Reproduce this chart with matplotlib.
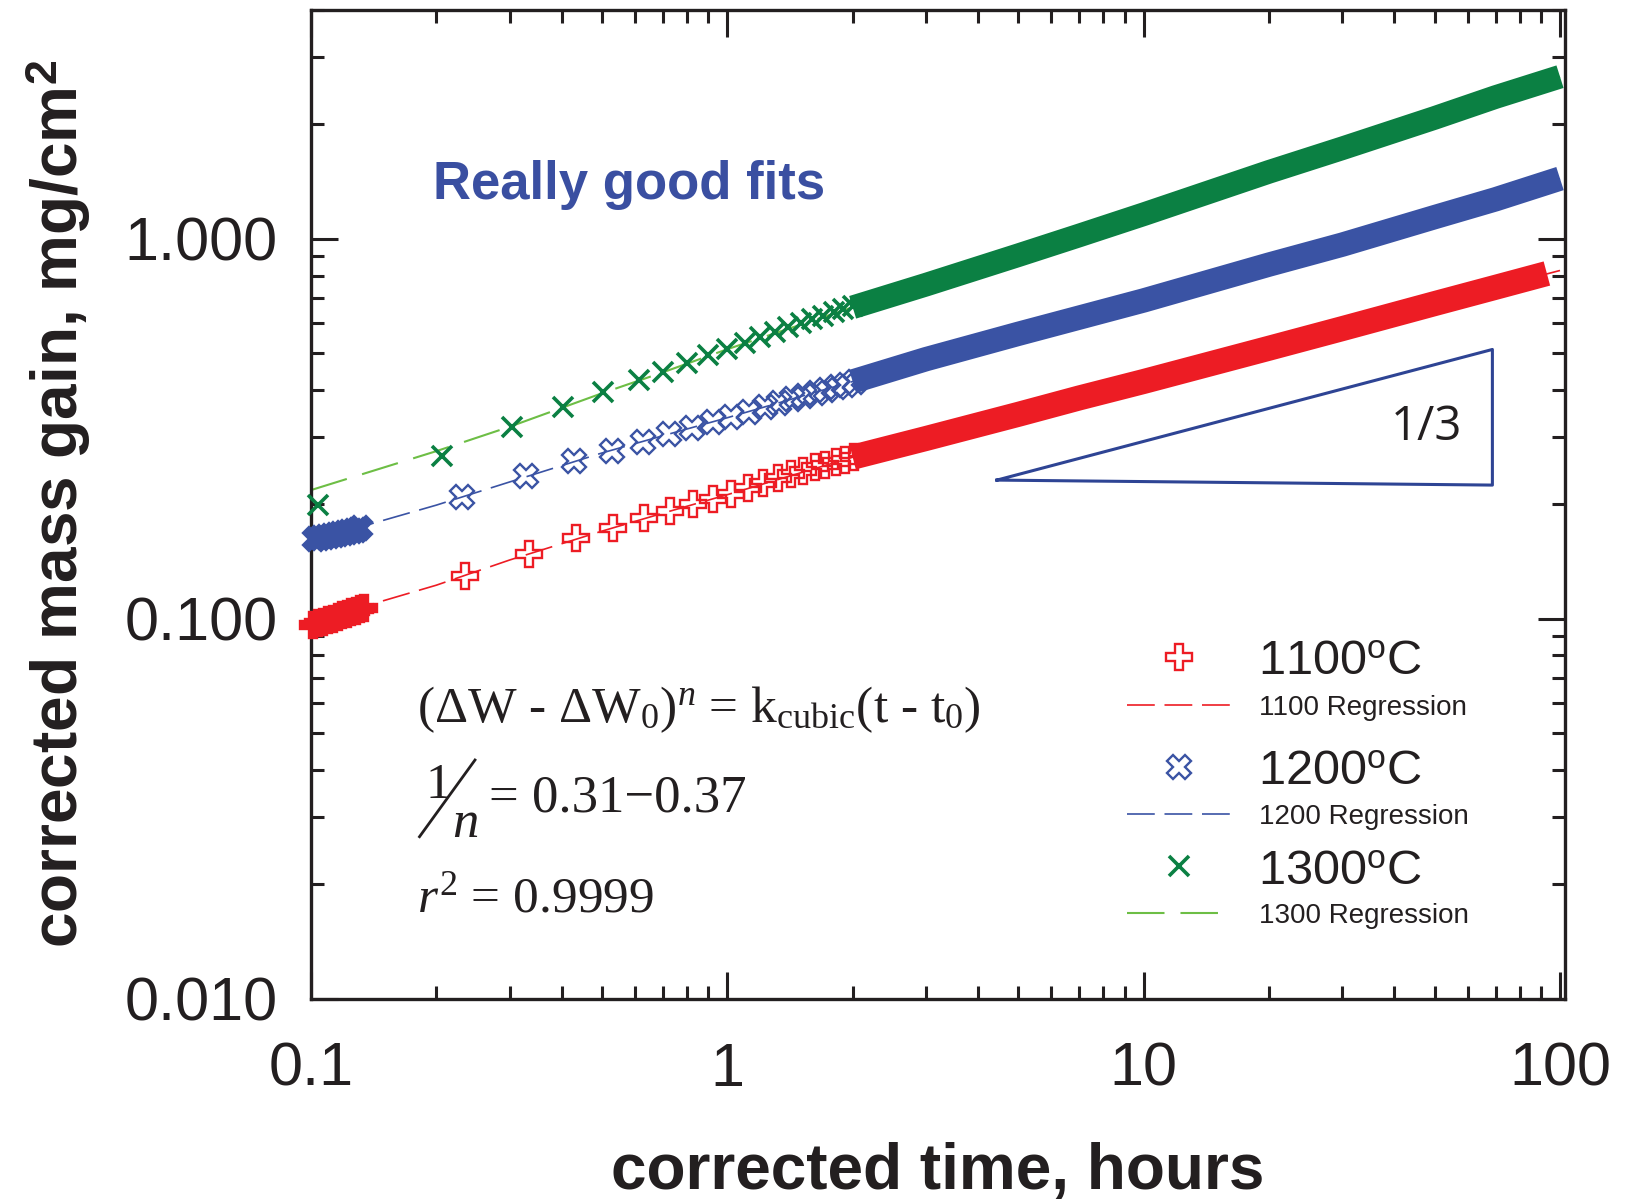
import matplotlib
matplotlib.use("Agg")
import matplotlib.pyplot as plt
from matplotlib.lines import Line2D
from matplotlib.ticker import FixedLocator, FixedFormatter, LogLocator, NullFormatter

plt.rcParams['font.family'] = ['Liberation Sans', 'DejaVu Sans']
plt.rcParams['mathtext.fontset'] = 'custom'
plt.rcParams['mathtext.rm'] = 'Liberation Serif'
plt.rcParams['mathtext.it'] = 'Liberation Serif:italic'
plt.rcParams['mathtext.sf'] = 'Liberation Sans'
plt.rcParams['mathtext.bf'] = 'Liberation Sans:bold'
plt.rcParams['lines.scale_dashes'] = False

W, H = 1625, 1201

# regression curves
t_fit = [0.1, 0.2, 0.3, 0.5, 0.7, 1, 2, 3, 5, 7, 10, 20, 30, 50, 70, 100]
fit_1100 = [0.098, 0.1225, 0.1427, 0.170, 0.1895, 0.212, 0.266, 0.298, 0.345, 0.381,
            0.421, 0.515, 0.58, 0.675, 0.745, 0.825]
fit_1200 = [0.160, 0.199, 0.229, 0.273, 0.303, 0.338, 0.421, 0.482, 0.562, 0.62,
            0.688, 0.855, 0.965, 1.14, 1.27, 1.44]
fit_1300 = [0.218, 0.276, 0.320, 0.392, 0.445, 0.512, 0.66, 0.757, 0.905, 1.02,
            1.16, 1.50, 1.73, 2.08, 2.36, 2.67]

# initial burst of readings (solid blobs at t ~ 0.1)
t_start_1100 = [0.101, 0.104, 0.107, 0.110, 0.113, 0.116, 0.119, 0.122, 0.125, 0.128, 0.131, 0.134]
w_start_1100 = [0.0965, 0.0975, 0.098, 0.099, 0.100, 0.101, 0.102, 0.103, 0.104, 0.105, 0.106, 0.107]
t_start_1200 = [0.102, 0.105, 0.108, 0.111, 0.114, 0.117, 0.120, 0.123, 0.126, 0.129, 0.131]
w_start_1200 = [0.162, 0.163, 0.164, 0.165, 0.166, 0.167, 0.168, 0.169, 0.170, 0.171, 0.173]

# individual readings
t_1100 = [0.235, 0.334, 0.433, 0.530, 0.631, 0.729, 0.829, 0.926, 1.02, 1.12, 1.22, 1.32,
          1.42, 1.52, 1.62, 1.72, 1.82, 1.92, 2.02]
w_1100 = [0.1294, 0.148, 0.1627, 0.1734, 0.184, 0.192, 0.200, 0.206, 0.213, 0.221, 0.228,
          0.234, 0.240, 0.245, 0.250, 0.254, 0.258, 0.262, 0.266]
t_1200 = [0.230, 0.329, 0.429, 0.527, 0.626, 0.725, 0.822, 0.926, 1.02, 1.13, 1.23, 1.33,
          1.43, 1.53, 1.63, 1.73, 1.83, 1.93, 2.03]
w_1200 = [0.209, 0.237, 0.260, 0.277, 0.292, 0.307, 0.318, 0.330, 0.340, 0.349, 0.361,
          0.370, 0.378, 0.386, 0.393, 0.400, 0.407, 0.413, 0.420]
t_1300 = [0.104, 0.206, 0.304, 0.402, 0.504, 0.613, 0.701, 0.802, 0.901, 1.0, 1.1, 1.2,
          1.3, 1.4, 1.5, 1.6, 1.7, 1.8, 1.9, 2.0]
w_1300 = [0.199, 0.268, 0.320, 0.361, 0.395, 0.424, 0.446, 0.470, 0.494, 0.514, 0.533,
          0.552, 0.568, 0.584, 0.599, 0.613, 0.627, 0.640, 0.653, 0.665]

# dense readings after ~2 h merge into a band (centre line of the band)
t_band_1100 = [2, 3, 5, 7, 10, 20, 30, 50, 70, 93]
band_1100 = [0.266, 0.298, 0.345, 0.381, 0.421, 0.515, 0.580, 0.675, 0.745, 0.81]
t_band = [2, 3, 5, 7, 10, 20, 30, 50, 70, 100]
band_1200 = [0.421, 0.482, 0.562, 0.62, 0.688, 0.855, 0.965, 1.14, 1.27, 1.44]
band_1300 = [0.66, 0.757, 0.905, 1.02, 1.16, 1.50, 1.73, 2.08, 2.36, 2.67]

# slope triangle
tri_t = [4.44, 68.8, 68.8, 4.44]
tri_w = [0.2316, 0.2247, 0.5112, 0.2316]

x_ticks = [0.1, 1, 10, 100]
x_labels = ['0.1', '1', '10', '100']
y_ticks = [0.01, 0.1, 1]
y_labels = ['0.010', '0.100', '1.000']

red = '#ED1C24'
blue = '#3A53A4'
green = '#0B8043'
lgreen = '#6DBE45'
ink = '#231F20'
dash_rb = (20, 7)
dash_g = (27, 11.5)

st_1100 = dict(ls='none', marker='P', ms=19, mec=red, mew=1.7)
st_1200 = dict(ls='none', marker='X', ms=17, mec=blue, mew=1.7)
st_1300 = dict(ls='none', marker='x', ms=14, color=green, mew=2.6)

fig = plt.figure(figsize=(W / 100, H / 100), dpi=100)
ax = fig.add_axes([311 / W, 1 - 998.6 / H, (1565 - 311) / W, (998.6 - 10) / H])
ax.set_xscale('log')
ax.set_yscale('log')

# regression lines
ax.plot(t_fit, fit_1100, color=red, lw=1.2, dashes=dash_rb, zorder=2)
ax.plot(t_fit, fit_1200, color=blue, lw=1.2, dashes=dash_rb, zorder=2)
ax.plot(t_fit, fit_1300, color=lgreen, lw=1.5, dashes=dash_g, zorder=2)

# dense bands
ax.plot(t_band_1100, band_1100, color=red, lw=18, solid_capstyle='butt',
        solid_joinstyle='round', zorder=3)
ax.plot(t_band, band_1200, color=blue, lw=17.5, solid_capstyle='butt',
        solid_joinstyle='round', zorder=3)
ax.plot(t_band, band_1300, color=green, lw=17, solid_capstyle='butt',
        solid_joinstyle='round', zorder=3)

# start blobs
ax.plot(t_start_1100, w_start_1100, mfc=red, clip_on=False, zorder=4, **st_1100)
ax.plot(t_start_1200, w_start_1200, mfc=blue, clip_on=False, zorder=4, **st_1200)

# individual readings
ax.plot(t_1100, w_1100, mfc='none', clip_on=False, zorder=4, **st_1100)
ax.plot(t_1200, w_1200, mfc='none', clip_on=False, zorder=4, **st_1200)
ax.plot(t_1300, w_1300, clip_on=False, zorder=4, **st_1300)

# slope triangle
ax.plot(tri_t, tri_w, color='#2E4494', lw=2.2, zorder=5)
fig.text(1426 / W, 1 - 427 / H, '1/3', ha='center', va='center',
         fontsize=34, family='Open Sans', color=ink)

ax.set_xlim(0.1, 102.8)
ax.set_ylim(0.01, 4.0)

ax.xaxis.set_major_locator(FixedLocator(x_ticks))
ax.xaxis.set_major_formatter(FixedFormatter(x_labels))
ax.yaxis.set_major_locator(FixedLocator(y_ticks))
ax.yaxis.set_major_formatter(FixedFormatter(y_labels))
for axis in (ax.xaxis, ax.yaxis):
    axis.set_minor_locator(LogLocator(base=10, subs=range(2, 10)))
    axis.set_minor_formatter(NullFormatter())

ax.tick_params(which='both', direction='in', top=True, right=True, width=2.2,
               colors=ink, labelsize=44)
ax.tick_params(which='major', length=19.5)
ax.tick_params(which='minor', length=9.5)
ax.tick_params(axis='x', pad=31)
ax.tick_params(axis='y', pad=24)
for s in ax.spines.values():
    s.set_linewidth(2.4)
    s.set_color(ink)

ax.set_xlabel('corrected time, hours', fontsize=46, fontweight='bold', va='baseline',
              color=ink)
ax.xaxis.set_label_coords(0.5, (998.6 - 1189) / 988.6)
ax.set_ylabel(r'corrected mass gain, mg/cm$^{\mathbf{2}}$', fontsize=46, fontweight='bold',
              va='baseline', color=ink)
ax.yaxis.set_label_coords((78 - 311) / 1254, 0.5)

fig.text(433 / W, 1 - 199 / H, 'Really good fits', fontsize=38, fontweight='bold',
         color='#3A4FA1', va='baseline')

# equations
serif = ['Liberation Serif', 'DejaVu Serif']
fig.text(417 / W, 1 - 722 / H,
         r'($\Delta$W - $\Delta$W$_0$)$^{n}$ = k$_{\rm cubic}$(t - t$_0$)',
         fontsize=37, family=serif, va='baseline', color=ink)
fig.text(425 / W, 1 - 798 / H, '1', fontsize=37, family=serif, va='baseline', color=ink)
fig.add_artist(Line2D([419.5 / W, 475 / W], [1 - 836.7 / H, 1 - 760 / H], lw=2,
                      color=ink, transform=fig.transFigure))
fig.text(452 / W, 1 - 836.7 / H, 'n', fontsize=38, family=serif, style='italic',
         va='baseline', color=ink)
fig.text(489 / W, 1 - 811 / H, '= 0.31\u22120.37', fontsize=38, family=serif,
         va='baseline', color=ink)
fig.text(417 / W, 1 - 912 / H, r'$r^{2}$ = 0.9999', fontsize=37, family=serif,
         va='baseline', color=ink)

# legend, laid out entry by entry (figure pixels)
leg_series = [
    ('1100', dict(mfc='none', **st_1100), dict(color=red, lw=1.2, dashes=dash_rb)),
    ('1200', dict(mfc='none', **st_1200), dict(color=blue, lw=1.2, dashes=dash_rb)),
    ('1300', dict(st_1300), dict(color=lgreen, lw=1.5, dashes=dash_g)),
]
leg_rows = [(657, 705), (767, 814), (866, 913)]
for (name, mstyle, lstyle), (y_mark, y_line) in zip(leg_series, leg_rows):
    fig.add_artist(Line2D([1179 / W], [1 - y_mark / H], transform=fig.transFigure, **mstyle))
    fig.add_artist(Line2D([1127 / W, 1232 / W], [1 - y_line / H, 1 - y_line / H],
                          transform=fig.transFigure, **lstyle))
    fig.text(1258 / W, 1 - (y_mark + 17.5) / H, name + r'$^{\mathsf{o}}$C', fontsize=35,
             va='baseline', color=ink)
    fig.text(1259 / W, 1 - (y_line + 10) / H, name + ' Regression', fontsize=20,
             va='baseline', color=ink)

fig.savefig('out.png', dpi=100)
